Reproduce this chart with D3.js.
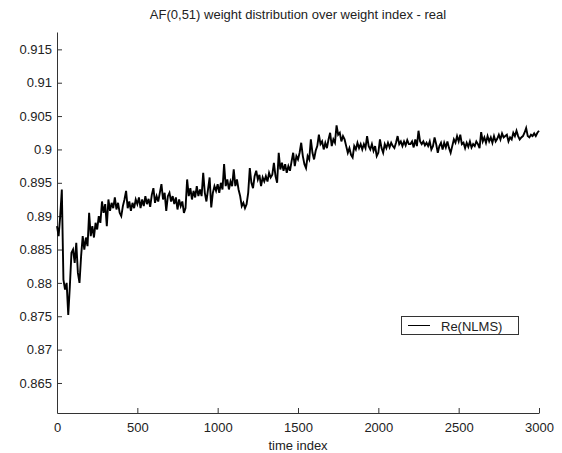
<!DOCTYPE html>
<html>
<head>
<meta charset="utf-8">
<script src="https://cdn.jsdelivr.net/npm/d3@7"></script>
<style>
  body { margin: 0; background: #fff; }
  text { font-family: "Liberation Sans", Arial, sans-serif; fill: #222; }
</style>
</head>
<body>
<div id="chart"></div>
<script>
// chart values
const title = 'AF(0,51) weight distribution over weight index - real'
const xLabel = 'time index'
const seriesName = 'Re(NLMS)'

const xTicks = [0, 500, 1000, 1500, 2000, 2500, 3000]
const yTicks = [0.865, 0.87, 0.875, 0.88, 0.885, 0.89, 0.895, 0.9, 0.905, 0.91, 0.915]

// sample every 10 time steps
const timeIndex = d3.range(0, 3001, 10)

const weight = [
    0.8885, 0.8870, 0.8900, 0.8940, 0.8805, 0.8790, 0.8800, 0.8752, 0.8795, 0.8845,
    0.8850, 0.8830, 0.8860, 0.8815, 0.8800, 0.8840, 0.8870, 0.8850, 0.8868, 0.8855,
    0.8905, 0.8870, 0.8885, 0.8868, 0.8890, 0.8880, 0.8900, 0.8890, 0.8922, 0.8905,
    0.8918, 0.8885, 0.8925, 0.8908, 0.8920, 0.8912, 0.8928, 0.8910, 0.8920, 0.8905,
    0.8900, 0.8915, 0.8925, 0.8938, 0.8912, 0.8922, 0.8908, 0.8920, 0.8912, 0.8925,
    0.8918, 0.8928, 0.8912, 0.8925, 0.8915, 0.8930, 0.8918, 0.8926, 0.8914, 0.8932,
    0.8942, 0.8920, 0.8930, 0.8922, 0.8935, 0.8948, 0.8925, 0.8935, 0.8908, 0.8930,
    0.8935, 0.8922, 0.8930, 0.8918, 0.8928, 0.8910, 0.8925, 0.8915, 0.8922, 0.8905,
    0.8912, 0.8955, 0.8930, 0.8942, 0.8925, 0.8938, 0.8928, 0.8945, 0.8930, 0.8940,
    0.8930, 0.8965, 0.8935, 0.8922, 0.8940, 0.8958, 0.8913, 0.8935, 0.8945, 0.8938,
    0.8948, 0.8935, 0.8950, 0.8940, 0.8978, 0.8945, 0.8955, 0.8940, 0.8952, 0.8945,
    0.8970, 0.8945, 0.8955, 0.8940, 0.8930, 0.8915, 0.8920, 0.8912, 0.8918, 0.8935,
    0.8972, 0.8950, 0.8942, 0.8960, 0.8968, 0.8955, 0.8962, 0.8945, 0.8958, 0.8952,
    0.8960, 0.8952, 0.8965, 0.8958, 0.8962, 0.8980, 0.8960, 0.8950, 0.8995, 0.8970,
    0.8980, 0.8968, 0.8978, 0.8965, 0.8975, 0.8968, 0.8982, 0.8995, 0.8975, 0.8990,
    0.8985, 0.8995, 0.9010, 0.8990, 0.8978, 0.8972, 0.8990, 0.8985, 0.9015, 0.8995,
    0.8985, 0.8998, 0.9005, 0.9022, 0.9008, 0.9012, 0.9000, 0.9010, 0.9002, 0.9015,
    0.9025, 0.9005, 0.9015, 0.9010, 0.9036, 0.9022, 0.9025, 0.9012, 0.9020, 0.9015,
    0.9005, 0.8995, 0.9002, 0.8992, 0.8988, 0.9005, 0.9000, 0.9010, 0.9002, 0.9008,
    0.9000, 0.9008, 0.9002, 0.9020, 0.9005, 0.9000, 0.9008, 0.8998, 0.9005, 0.8990,
    0.8995, 0.9015, 0.9002, 0.8995, 0.9008, 0.9002, 0.9010, 0.9003, 0.9010, 0.9005,
    0.9002, 0.9010, 0.9020, 0.9008, 0.9012, 0.9005, 0.9012, 0.9006, 0.9014, 0.9008,
    0.9008, 0.9012, 0.9003, 0.9015, 0.9005, 0.9028, 0.9012, 0.9008, 0.9012, 0.9006,
    0.9010, 0.9005, 0.9012, 0.9000, 0.9005, 0.9018, 0.9008, 0.8995, 0.9005, 0.9010,
    0.9000, 0.9010, 0.9003, 0.9012, 0.9002, 0.8995, 0.9005, 0.9015, 0.9010, 0.9020,
    0.9012, 0.9022, 0.9008, 0.9010, 0.9002, 0.9010, 0.9004, 0.9012, 0.9003, 0.9008,
    0.9005, 0.9012, 0.9008, 0.9002, 0.9026, 0.9012, 0.9018, 0.9010, 0.9020, 0.9012,
    0.9018, 0.9010, 0.9020, 0.9012, 0.9016, 0.9022, 0.9015, 0.9024, 0.9018, 0.9020,
    0.9022, 0.9012, 0.9018, 0.9015, 0.9025, 0.9020, 0.9028, 0.9020, 0.9015, 0.9018,
    0.9020, 0.9025, 0.9032, 0.9020, 0.9018, 0.9022, 0.9020, 0.9024, 0.9020, 0.9025,
    0.9028
]

const width = 562
const height = 453
const margin = ({ top: 32, right: 23, bottom: 40, left: 57 })

const data = timeIndex.map((t, i) => ({ t: t, v: weight[i] }))

const x = d3.scaleLinear()
    .domain([0, 3000])
    .range([margin.left, width - margin.right])

const y = d3.scaleLinear()
    .domain([0.8605, 0.9176])
    .range([height - margin.bottom, margin.top])

const svg = d3.select('#chart')
    .append('svg')
    .attr('width', width)
    .attr('height', height)

// axes, ticks pointing inward like matlab
const xAxis = g => g
    .attr('transform', `translate(0,${height - margin.bottom})`)
    .call(d3.axisBottom(x).tickValues(xTicks).tickFormat(d3.format('d'))
        .tickSizeInner(-5).tickSizeOuter(0).tickPadding(10))
    .call(g => g.selectAll('text').attr('font-size', 13))

const yAxis = g => g
    .attr('transform', `translate(${margin.left},0)`)
    .call(d3.axisLeft(y).tickValues(yTicks).tickFormat(d => String(+d.toFixed(3)))
        .tickSizeInner(-5).tickSizeOuter(0).tickPadding(5))
    .call(g => g.selectAll('text').attr('font-size', 13))

svg.append('g').call(xAxis)
svg.append('g').call(yAxis)
svg.selectAll('.domain, .tick line').attr('stroke', '#333')
svg.selectAll('.tick text').attr('font-family', '"Liberation Sans", Arial, sans-serif').attr('fill', '#222')

// the weight curve
const line = d3.line()
    .x(d => x(d.t))
    .y(d => y(d.v))

svg.append('path')
    .datum(data)
    .attr('fill', 'none')
    .attr('stroke', '#000')
    .attr('stroke-width', 1.9)
    .attr('stroke-linejoin', 'miter')
    .attr('d', line)

// title and label
svg.append('text')
    .attr('x', (margin.left + width - margin.right) / 2)
    .attr('y', 19)
    .attr('text-anchor', 'middle')
    .attr('font-size', 13)
    .text(title)

svg.append('text')
    .attr('x', (margin.left + width - margin.right) / 2)
    .attr('y', 450)
    .attr('text-anchor', 'middle')
    .attr('font-size', 13)
    .text(xLabel)

// legend
const legend = svg.append('g').attr('transform', 'translate(401,316)')
legend.append('rect')
    .attr('x', 0.5)
    .attr('y', 0.5)
    .attr('width', 117)
    .attr('height', 18)
    .attr('fill', '#fff')
    .attr('stroke', '#333')
legend.append('line')
    .attr('x1', 7)
    .attr('x2', 29)
    .attr('y1', 9.5)
    .attr('y2', 9.5)
    .attr('stroke', '#000')
legend.append('text')
    .attr('x', 40)
    .attr('y', 15)
    .attr('font-size', 13)
    .text(seriesName)
</script>
</body>
</html>
